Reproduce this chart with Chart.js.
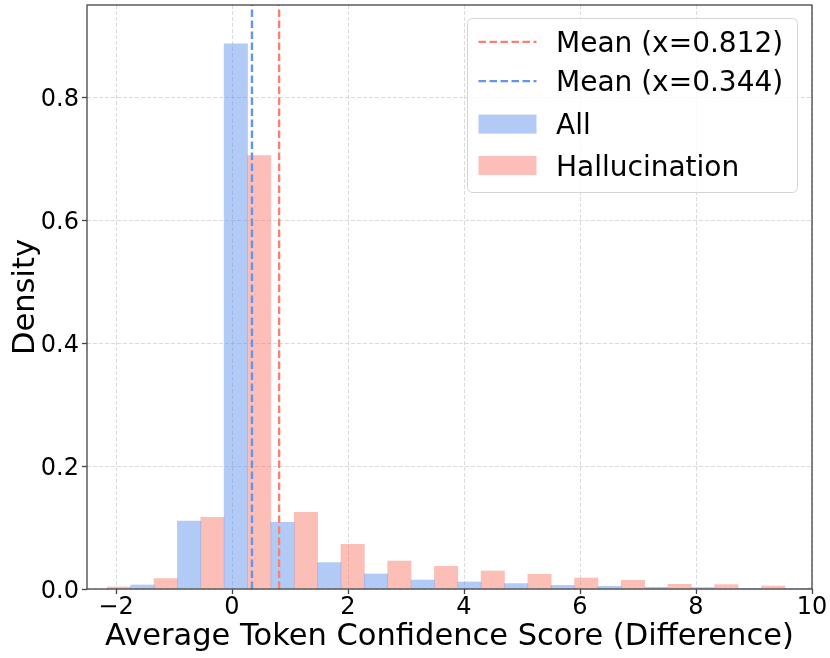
<!DOCTYPE html>
<html>
<head>
<meta charset="utf-8">
<title>Average Token Confidence Score (Difference)</title>
<script src="https://cdn.jsdelivr.net/npm/chart.js@4.4.1/dist/chart.umd.min.js"></script>
<style>
  html, body { margin: 0; padding: 0; background: #fff; }
  #wrap { width: 830px; height: 658px; }
</style>
</head>
<body>
<div id="wrap"><canvas id="histChart"></canvas></div>
<script>
// bar centres (x) and density
const hallCenters = [-1.948, -1.1424, -0.3368, 0.4688, 1.2744, 2.08, 2.8856, 3.6912,
                     4.4968, 5.3024, 6.108, 6.9136, 7.7192, 8.5248, 9.3304, 10.136];
const hallDensity = [0.0033, 0.0169, 0.1166, 0.705, 0.1247, 0.0727, 0.0455, 0.0369,
                     0.0293, 0.0239, 0.0179, 0.0141, 0.0076, 0.0071, 0.0049, 0.002];
const allCenters = [-1.5452, -0.7396, 0.066, 0.8716, 1.6772, 2.4828, 3.2884, 4.094,
                    4.8996, 5.7052, 6.5108, 7.3164, 8.122, 8.9276, 9.7332];
const allDensity = [0.0065, 0.1106, 0.887, 0.1085, 0.0429, 0.0244, 0.0146, 0.0114,
                    0.0088, 0.006, 0.0044, 0.0028, 0.0023, 0.0011, 0.0007];
const seriesNames = ['All', 'Hallucination'];
const meanValues = [0.812, 0.344]; // hallucination, all
const xTicks = [-2, 0, 2, 4, 6, 8, 10];
const xTickLabels = ['\u22122', '0', '2', '4', '6', '8', '10'];
const yTicks = [0, 0.2, 0.4, 0.6, 0.8];
const yTickLabels = ['0.0', '0.2', '0.4', '0.6', '0.8'];
const xRange = [-2.5, 10];
const yRange = [0, 0.95];

const BLUE = 'rgb(100, 149, 237)';
const BLUE_BAR = 'rgba(100, 149, 237, 0.5)';
const RED = 'rgb(250, 128, 114)';
const RED_BAR = 'rgba(250, 128, 114, 0.5)';
const FONT = 'DejaVu Sans';
const DASH = [7.5, 3.5];
const MEAN_WIDTH = 2.4;

const toPoints = (xs, ys) => xs.map((x, i) => ({x: x, y: ys[i]}));
const vline = x => [{x: x, y: yRange[0]}, {x: x, y: yRange[1]}];

const meanLabels = meanValues.map(v => 'Mean (x=' + v.toFixed(3) + ')');

// legend drawn inside the plot, top right
const boxLegend = {
    id: 'boxLegend',
    afterDraw(chart) {
        const ctx = chart.ctx;
        const area = chart.chartArea;
        const w = 330, h = 174;
        const x0 = area.right - 14.5 - w;
        const y0 = area.top + 13.5;
        ctx.save();
        ctx.beginPath();
        ctx.roundRect(x0, y0, w, h, 5);
        ctx.fillStyle = 'rgba(255, 255, 255, 0.8)';
        ctx.fill();
        ctx.strokeStyle = '#d4d4d4';
        ctx.lineWidth = 1;
        ctx.stroke();

        const entries = [
            {kind: 'line', color: RED, text: meanLabels[0], dy: 23.4},
            {kind: 'line', color: BLUE, text: meanLabels[1], dy: 62.6},
            {kind: 'rect', color: BLUE_BAR, text: seriesNames[0], dy: 105.6},
            {kind: 'rect', color: RED_BAR, text: seriesNames[1], dy: 147.0}
        ];
        ctx.font = '28px "' + FONT + '"';
        ctx.textBaseline = 'alphabetic';
        ctx.textAlign = 'left';
        entries.forEach(e => {
            const cy = y0 + e.dy;
            if (e.kind === 'line') {
                ctx.beginPath();
                ctx.setLineDash(DASH);
                ctx.strokeStyle = e.color;
                ctx.lineWidth = MEAN_WIDTH;
                ctx.moveTo(x0 + 11, cy);
                ctx.lineTo(x0 + 69, cy);
                ctx.stroke();
                ctx.setLineDash([]);
            } else {
                ctx.fillStyle = e.color;
                ctx.fillRect(x0 + 11, cy - 9.5, 58, 19);
            }
            ctx.fillStyle = '#000';
            ctx.fillText(e.text, x0 + 88.5, cy + 10.2);
        });
        ctx.restore();

        // full frame round the plot
        ctx.save();
        ctx.strokeStyle = '#444';
        ctx.lineWidth = 1.3;
        ctx.strokeRect(area.left, area.top, area.right - area.left, area.bottom - area.top);
        ctx.restore();
    }
};

const noEdgePadding = scale => {
    scale.paddingTop = 0;
    scale.paddingBottom = 0;
    scale.paddingLeft = 0;
    scale.paddingRight = 0;
};

const ctx = document.getElementById('histChart').getContext('2d');
const histChart = new Chart(ctx, {
    type: 'bar',
    data: {
        datasets: [
            {
                type: 'line',
                label: meanLabels[0],
                data: vline(meanValues[0]),
                borderColor: RED,
                borderWidth: MEAN_WIDTH,
                borderDash: DASH,
                pointRadius: 0,
                fill: false,
                order: 0
            },
            {
                type: 'line',
                label: meanLabels[1],
                data: vline(meanValues[1]),
                borderColor: BLUE,
                borderWidth: MEAN_WIDTH,
                borderDash: DASH,
                pointRadius: 0,
                fill: false,
                order: 0
            },
            {
                label: seriesNames[0],
                data: toPoints(allCenters, allDensity),
                backgroundColor: BLUE_BAR,
                borderWidth: 0,
                grouped: false,
                barPercentage: 1,
                categoryPercentage: 1,
                order: 1
            },
            {
                label: seriesNames[1],
                data: toPoints(hallCenters, hallDensity),
                backgroundColor: RED_BAR,
                borderWidth: 0,
                grouped: false,
                barPercentage: 1,
                categoryPercentage: 1,
                order: 1
            }
        ]
    },
    options: {
        responsive: true,
        maintainAspectRatio: false,
        animation: false,
        events: [],
        layout: { padding: { left: 0, right: 18, top: 5, bottom: 0 } },
        plugins: {
            legend: { display: false },
            tooltip: { enabled: false }
        },
        scales: {
            x: {
                type: 'linear',
                min: xRange[0],
                max: xRange[1],
                offset: false,
                afterBuildTicks: scale => { scale.ticks = xTicks.map(v => ({value: v})); },
                afterFit: scale => { scale.height = 69; noEdgePadding(scale); },
                ticks: {
                    color: '#000',
                    font: { family: FONT, size: 24, lineHeight: 1 },
                    padding: 2,
                    maxRotation: 0,
                    autoSkip: false,
                    callback: (v, i) => xTickLabels[i]
                },
                grid: {
                    offset: false,
                    color: 'rgba(176, 176, 176, 0.45)',
                    lineWidth: 1,
                    tickColor: '#444',
                    tickLength: 5,
                    tickWidth: 1.3,
                    tickBorderDash: []
                },
                border: { display: false, dash: [4, 2] },
                title: {
                    display: true,
                    text: 'Average Token Confidence Score (Difference)',
                    color: '#000',
                    font: { family: FONT, size: 30.5 },
                    padding: { top: 0, bottom: 3 }
                }
            },
            y: {
                min: yRange[0],
                max: yRange[1],
                afterBuildTicks: scale => { scale.ticks = yTicks.map(v => ({value: v})); },
                afterFit: scale => { scale.width = 87; noEdgePadding(scale); },
                ticks: {
                    color: '#000',
                    font: { family: FONT, size: 24 },
                    padding: 3,
                    labelOffset: 3,
                    autoSkip: false,
                    callback: (v, i) => yTickLabels[i]
                },
                grid: {
                    color: 'rgba(176, 176, 176, 0.45)',
                    lineWidth: 1,
                    tickColor: '#444',
                    tickLength: 5,
                    tickWidth: 1.3,
                    tickBorderDash: []
                },
                border: { display: false, dash: [4, 2] },
                title: {
                    display: true,
                    text: 'Density',
                    color: '#000',
                    font: { family: FONT, size: 30.5 },
                    padding: { top: 8, bottom: 0 }
                }
            }
        }
    },
    plugins: [boxLegend]
});
</script>
</body>
</html>
